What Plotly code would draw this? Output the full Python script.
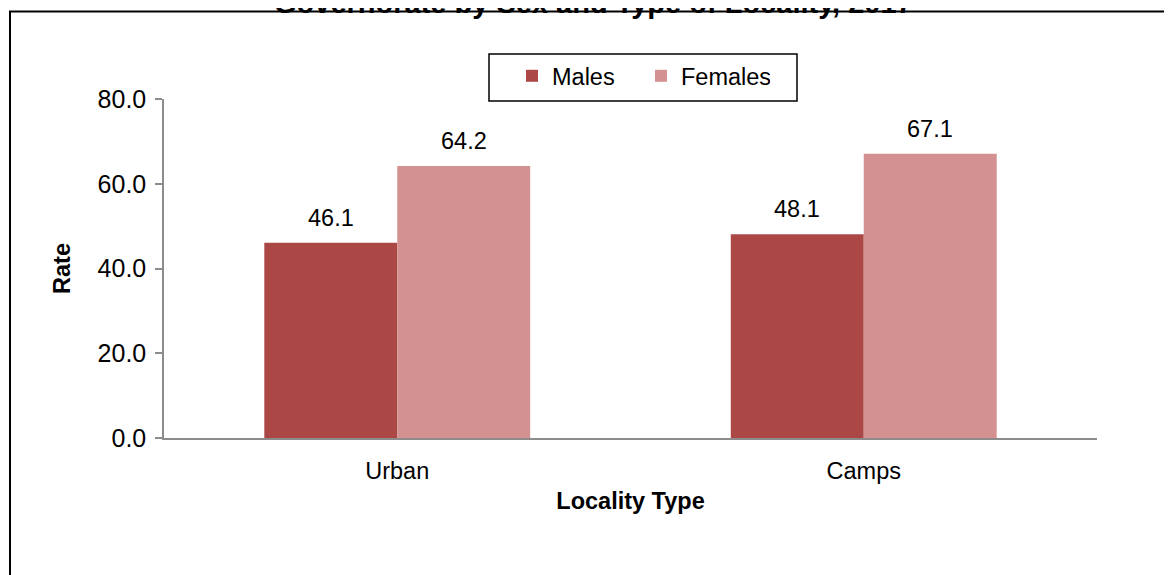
import plotly.graph_objects as go

categories = ["Urban", "Camps"]
males = [46.1, 48.1]
females = [64.2, 67.1]
y_ticks = [0, 20, 40, 60, 80]
title_text = "Governorate by Sex and Type of Locality, 2017"

MALE_COLOR = "#AB4846"
FEMALE_COLOR = "#D39291"
FONT = "Liberation Sans, Arial, sans-serif"
AXIS_GRAY = "#8C8C8C"
FS = 23.5

# the page body has an 8px margin; the figure is sized to the visible window
OFF = 8
W, H = 1172 - OFF, 575 - OFF
ML, MT = 164 - OFF, 99 - OFF
PR, PB = 1097 - OFF, 438 - OFF
MR, MB = W - PR, H - PB
pw, ph = PR - ML, PB - MT
bar_w = 0.285


def px_x(px):  # screen px -> paper x
    return (px - OFF - ML) / pw


def px_y(py):  # screen px -> paper y
    return (PB - (py - OFF)) / ph


xpos = list(range(len(categories)))

fig = go.Figure()
fig.add_trace(go.Bar(name="Males", x=xpos, y=males, width=bar_w, offset=-bar_w,
                     marker=dict(color=MALE_COLOR, line=dict(width=0))))
fig.add_trace(go.Bar(name="Females", x=xpos, y=females, width=bar_w, offset=0,
                     marker=dict(color=FEMALE_COLOR, line=dict(width=0))))

annotations = []
for series, sign in ((males, -1), (females, 1)):
    for i, v in enumerate(series):
        annotations.append(dict(x=i + sign * bar_w / 2, y=v, xref="x", yref="y",
                                text=f"{v:.1f}", showarrow=False, yanchor="bottom",
                                yshift=10, font=dict(size=FS, color="black", family=FONT)))

# title (partially cut off at the top like the reference)
annotations.append(dict(x=px_x(593), y=px_y(21), xref="paper", yref="paper",
                        text=f"<b>{title_text}</b>", showarrow=False, yanchor="bottom",
                        xanchor="center", font=dict(size=29, color="black", family=FONT)))
fig.update_layout(annotations=annotations)

# outer chart border
fig.add_shape(type="rect", xref="paper", yref="paper",
              x0=px_x(10), x1=px_x(1200), y0=-1.0, y1=px_y(11.5),
              line=dict(color="black", width=2), fillcolor="rgba(0,0,0,0)", layer="below")
# legend frame
fig.add_shape(type="rect", xref="paper", yref="paper",
              x0=px_x(489), x1=px_x(797), y0=px_y(101), y1=px_y(54),
              line=dict(color="black", width=1.5), fillcolor="white", layer="below")

fig.update_layout(
    width=W, height=H,
    margin=dict(l=ML, r=MR, t=MT, b=MB, pad=0),
    paper_bgcolor="white", plot_bgcolor="white",
    font=dict(family=FONT, size=FS, color="black"),
    barmode="group",
    showlegend=True,
    legend=dict(orientation="h", x=px_x(512), xanchor="left",
                y=px_y(54), yanchor="top",
                borderwidth=0, bgcolor="rgba(0,0,0,0)",
                font=dict(size=FS, family=FONT, color="black"),
                entrywidth=84, itemwidth=30),
    xaxis=dict(tickmode="array", tickvals=xpos, ticktext=categories,
               range=[-0.5, len(categories) - 0.5],
               showline=True, linecolor=AXIS_GRAY, linewidth=1.5,
               ticks="", showgrid=False, zeroline=False, ticklabelstandoff=11,
               tickfont=dict(size=FS),
               title=dict(text="<b>Locality Type</b>", standoff=10,
                          font=dict(size=FS, family=FONT, color="black"))),
    yaxis=dict(range=[0, 80], tickmode="array", tickvals=y_ticks,
               tickformat=".1f", showline=True, linecolor=AXIS_GRAY, linewidth=1.5,
               ticks="outside", ticklen=7, tickcolor=AXIS_GRAY, tickwidth=1.5,
               ticklabelstandoff=4, tickfont=dict(size=25),
               showgrid=False, zeroline=False,
               title=dict(text="<b>Rate</b>", standoff=20,
                          font=dict(size=FS, family=FONT, color="black"))),
)

fig.write_html("out.html")
